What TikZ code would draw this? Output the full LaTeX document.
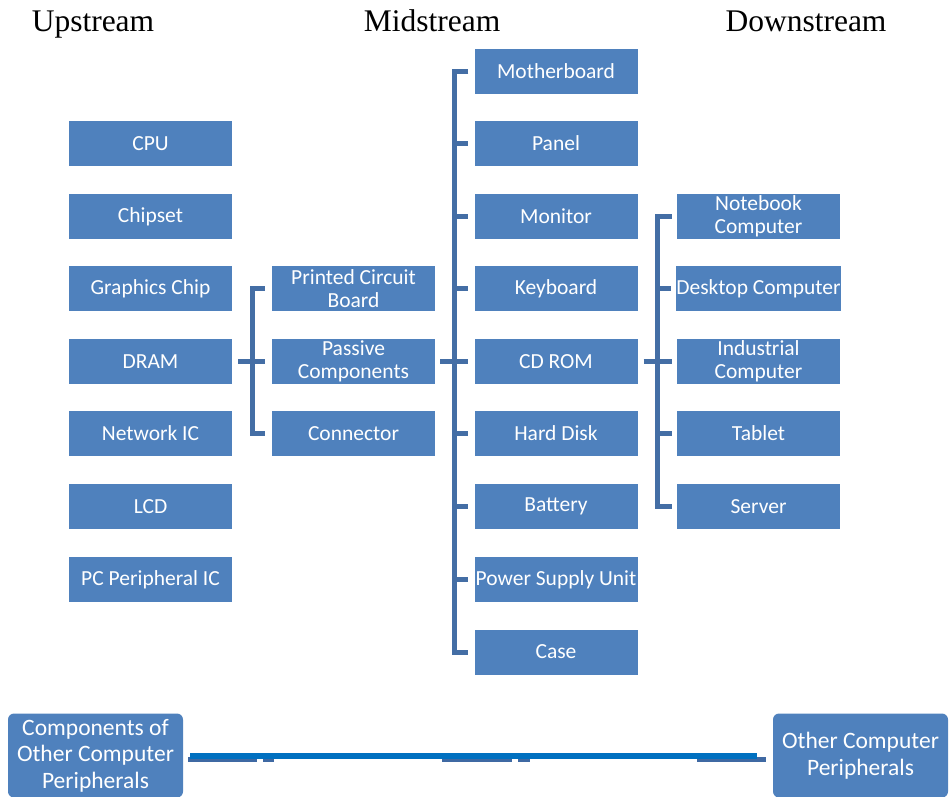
\documentclass[tikz,border=0pt]{standalone}
\usepackage{fontspec}
\setmainfont{Liberation Serif}
\newfontfamily\carlito{Carlito}
\definecolor{boxblue}{HTML}{4F81BD}
\definecolor{connblue}{HTML}{446EA5}
\definecolor{barblue}{HTML}{0070C0}
\definecolor{fragblue}{HTML}{3F69A3}
\tikzset{
  box/.style={rectangle, fill=boxblue, text=white, minimum width=163pt, minimum height=45pt,
    inner sep=0pt, align=center, font=\carlito\fontsize{21.5}{23.5}\selectfont},
  bigbox/.style={rectangle, rounded corners=6pt, fill=boxblue, text=white, minimum width=175pt,
    minimum height=84pt, inner sep=0pt, align=center, font=\carlito\fontsize{23.5}{26.5}\selectfont},
  conn/.style={draw=connblue, line width=5pt},
  header/.style={font=\fontsize{31.5}{36}\selectfont, inner sep=0pt, anchor=base}
}
\begin{document}
\begin{tikzpicture}[x=1pt,y=-1pt]
\useasboundingbox (0,0) rectangle (949,796);
% headers
\node[header] (hup) at (93,31) {Upstream};
\node[header] (hmid) at (432,31) {Midstream};
\node[header] (hdown) at (806,31) {Downstream};
% upstream
\node[box] (cpu) at (150.5,143.5) {CPU};
\node[box] (chip) at (150.5,216.5) {Chipset};
\node[box] (gfx) at (150.5,288.5) {Graphics Chip};
\node[box] (dram) at (150.5,361.5) {DRAM};
\node[box] (net) at (150.5,433.5) {Network IC};
\node[box] (lcd) at (150.5,506.5) {LCD};
\node[box] (pcp) at (150.5,579.5) {PC Peripheral IC};
% mid-left
\node[box] (pcb) at (353.5,288.5) {Printed Circuit\\Board};
\node[box] (pas) at (353.5,361.5) {Passive\\Components};
\node[box] (con) at (353.5,433.5) {Connector};
% midstream
\node[box] (mb) at (556,71) {Motherboard};
\node[box] (panel) at (556,143.5) {Panel};
\node[box] (mon) at (556,216.5) {Monitor};
\node[box] (kb) at (556,288.5) {Keyboard};
\node[box] (cd) at (556,361.5) {CD ROM};
\node[box] (hd) at (556,433.5) {Hard Disk};
\node[box] (bat) at (556,506.5) {Battery};
\node[box] (psu) at (556,579.5) {Power Supply Unit};
\node[box] (case) at (556,652) {Case};
% downstream
\node[box] (nb) at (758.5,216.5) {Notebook\\Computer};
\node[box] (dc) at (758.5,288.5) {Desktop Computer};
\node[box] (ic) at (758.5,361.5) {Industrial\\Computer};
\node[box] (tab) at (758.5,433.5) {Tablet};
\node[box] (srv) at (758.5,506.5) {Server};
% bracket 1
\draw[conn] ([xshift=-7pt]pcb.west) -| ([xshift=-19pt]con.west) -- ([xshift=-7pt]con.west);
\draw[conn] ([xshift=6pt]dram.east) -- ([xshift=-7pt]pas.west);
% bracket 2
\draw[conn] ([xshift=-6pt]mb.west) -| ([xshift=-20pt]case.west) -- ([xshift=-6pt]case.west);
\foreach \n in {panel,mon,kb,hd,bat,psu}
  \draw[conn] ([xshift=-20pt]\n.west) -- ([xshift=-6pt]\n.west);
\draw[conn] ([xshift=5pt]pas.east) -- ([xshift=-6pt]cd.west);
% bracket 3
\draw[conn] ([xshift=-5pt]nb.west) -| ([xshift=-19pt]srv.west) -- ([xshift=-5pt]srv.west);
\foreach \n in {dc,tab}
  \draw[conn] ([xshift=-19pt]\n.west) -- ([xshift=-5pt]\n.west);
\draw[conn] ([xshift=6pt]cd.east) -- ([xshift=-5pt]ic.west);
% bottom
\node[bigbox] (cop) at (95.5,755.5) {Components of\\Other Computer\\Peripherals};
\node[bigbox] (ocp) at (860.5,755.5) {Other Computer\\Peripherals};
\fill[fragblue] (188,757) rectangle (257,762);
\fill[fragblue] (263,757) rectangle (274,762);
\fill[fragblue] (442,757) rectangle (512,762);
\fill[fragblue] (518,757) rectangle (530,762);
\fill[fragblue] (697,757) rectangle (766,762);
\draw[draw=barblue, line width=6pt] ([xshift=7pt]cop.east |- 0,755.5) -- ([xshift=-16pt]ocp.west |- 0,755.5);
\end{tikzpicture}
\end{document}
